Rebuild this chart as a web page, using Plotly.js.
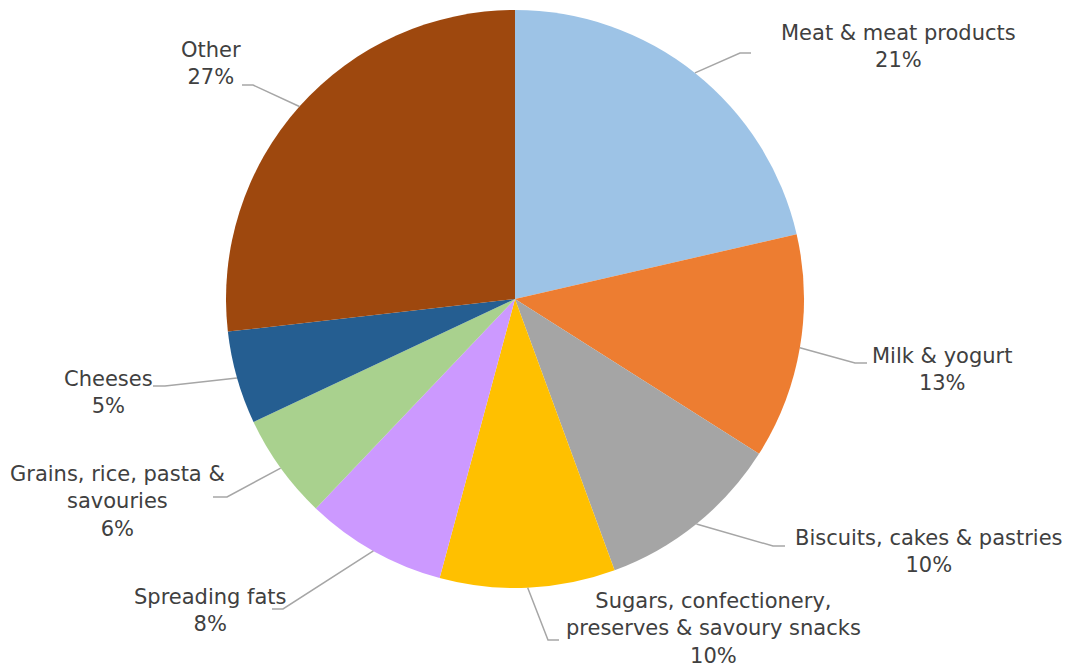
<!DOCTYPE html>
<html>
<head>
<meta charset="utf-8">
<script src="https://cdn.plot.ly/plotly-3.0.1.min.js"></script>
<style>html,body{margin:0;padding:0;background:#fff;}#chart{width:1072px;height:670px;}</style>
</head>
<body>
<div id="chart"></div>
<script>
// ---- data ----
var categories = [
  "Meat & meat products",
  "Milk & yogurt",
  "Biscuits, cakes & pastries",
  "Sugars, confectionery,<br>preserves & savoury snacks",
  "Spreading fats",
  "Grains, rice, pasta &<br>savouries",
  "Cheeses",
  "Other"
];
var shares = [21.4, 12.6, 10.4, 9.8, 7.9, 5.9, 5.2, 26.8];
var colors = ["#9DC3E6", "#ED7D31", "#A5A5A5", "#FFC000", "#CC99FF", "#A9D18E", "#255E91", "#9E480E"];

// ---- layout (pixel geometry of the page) ----
var W = 1072, H = 670;
var cx = 515, cy = 299, R = 289;
// label placement: elbow point, line end, text centre (pixels)
var labelLayout = [
  {elbow:[740,53],  end:[751,53],  text:[898,46]},
  {elbow:[855,363], end:[867,363], text:[942,369]},
  {elbow:[773,546], end:[785,546], text:[929,551]},
  {elbow:[548,640], end:[559,640], text:[713,628]},
  {elbow:[283,609], end:[272,609], text:[210,610]},
  {elbow:[227,497], end:[213,497], text:[117,501]},
  {elbow:[165,386], end:[153,386], text:[108,392]},
  {elbow:[253,85],  end:[242,85],  text:[211,64]}
];

function px(x){ return x / W; }
function py(y){ return 1 - y / H; }

var total = shares.reduce(function(a,b){return a+b;},0);
var shapes = [], annotations = [];
var cum = 0;
for (var i = 0; i < shares.length; i++) {
  var mid = (cum + shares[i] / 2) / total * 2 * Math.PI;
  cum += shares[i];
  var sx = cx + R * Math.sin(mid), sy = cy - R * Math.cos(mid);
  var L = labelLayout[i];
  shapes.push({
    type: 'path', xref: 'paper', yref: 'paper',
    path: 'M' + px(sx) + ',' + py(sy) + ' L' + px(L.elbow[0]) + ',' + py(L.elbow[1]) + ' L' + px(L.end[0]) + ',' + py(L.end[1]),
    line: {color: '#A6A6A6', width: 1.5}
  });
  annotations.push({
    xref: 'paper', yref: 'paper', x: px(L.text[0]), y: py(L.text[1]),
    xanchor: 'center', yanchor: 'middle', showarrow: false, align: 'center',
    text: categories[i] + '<br>' + Math.round(shares[i] / total * 100) + '%',
    font: {family: 'DejaVu Sans, Verdana, sans-serif', size: 21, color: '#404040'}
  });
}

var trace = {
  type: 'pie',
  labels: categories,
  values: shares,
  sort: false,
  direction: 'clockwise',
  rotation: 0,
  marker: {colors: colors, line: {width: 0}},
  textinfo: 'none',
  hoverinfo: 'label+percent',
  showlegend: false,
  domain: {x: [px(cx - R), px(cx + R)], y: [py(cy + R), py(cy - R)]}
};

var layout = {
  width: W, height: H,
  margin: {l: 0, r: 0, t: 0, b: 0},
  paper_bgcolor: '#ffffff',
  plot_bgcolor: '#ffffff',
  showlegend: false,
  shapes: shapes,
  annotations: annotations
};

Plotly.newPlot('chart', [trace], layout, {displayModeBar: false, staticPlot: true});
</script>
</body>
</html>
